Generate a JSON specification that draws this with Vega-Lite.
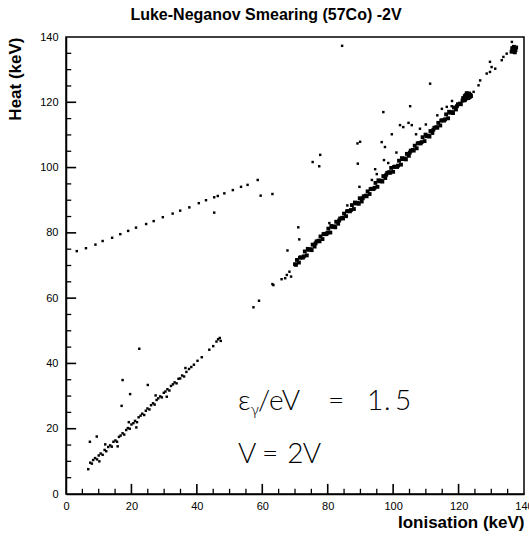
{
  "$schema": "https://vega.github.io/schema/vega-lite/v6.json",
  "width": 458,
  "height": 457,
  "autosize": "none",
  "padding": {"left": 66, "top": 37, "right": 5, "bottom": 46},
  "background": "white",
  "config": {
    "view": {"stroke": "black", "strokeWidth": 1.5},
    "scale": {"continuousPadding": 0},
    "axis": {
      "grid": false,
      "domainColor": "black",
      "domainWidth": 1.5,
      "labelFont": "Liberation Sans",
      "labelFontSize": 11,
      "labelColor": "black",
      "titleFont": "Liberation Sans",
      "titleFontSize": 17,
      "titleFontWeight": "bold",
      "titleColor": "black"
    }
  },
  "title": {
    "text": "Luke-Neganov Smearing (57Co) -2V",
    "font": "Liberation Sans",
    "fontSize": 16,
    "fontWeight": "bold",
    "color": "black",
    "anchor": "middle",
    "dx": -29,
    "offset": 8
  },
  "resolve": {"axis": {"x": "independent", "y": "independent"}},
  "datasets": {
    "scatter": [
      {"ionisation": 3.3, "heat": 74.4}, {"ionisation": 6.1, "heat": 75.3}, {"ionisation": 9.0, "heat": 76.4}, {"ionisation": 11.2, "heat": 77.5},
      {"ionisation": 14.1, "heat": 78.5}, {"ionisation": 16.6, "heat": 79.6}, {"ionisation": 19.0, "heat": 80.6}, {"ionisation": 21.4, "heat": 81.6},
      {"ionisation": 24.5, "heat": 82.7}, {"ionisation": 26.8, "heat": 83.6}, {"ionisation": 29.6, "heat": 84.8}, {"ionisation": 32.6, "heat": 85.9},
      {"ionisation": 34.9, "heat": 86.8}, {"ionisation": 37.7, "heat": 87.8}, {"ionisation": 40.6, "heat": 89.1}, {"ionisation": 42.8, "heat": 90.0},
      {"ionisation": 45.3, "heat": 90.9}, {"ionisation": 46.4, "heat": 91.3}, {"ionisation": 48.4, "heat": 92.1}, {"ionisation": 51.0, "heat": 93.1},
      {"ionisation": 53.5, "heat": 94.1}, {"ionisation": 55.5, "heat": 94.7}, {"ionisation": 58.6, "heat": 96.2},
      {"ionisation": 45.3, "heat": 86.2}, {"ionisation": 59.5, "heat": 91.4}, {"ionisation": 63.1, "heat": 91.9}, {"ionisation": 67.7, "heat": 74.6},

      {"ionisation": 6.8, "heat": 7.6}, {"ionisation": 7.4, "heat": 9.6}, {"ionisation": 7.9, "heat": 9.3}, {"ionisation": 8.3, "heat": 10.4},
      {"ionisation": 8.9, "heat": 11.0}, {"ionisation": 9.5, "heat": 10.6}, {"ionisation": 10.0, "heat": 11.8}, {"ionisation": 10.6, "heat": 12.4},
      {"ionisation": 11.2, "heat": 12.0}, {"ionisation": 11.8, "heat": 13.5}, {"ionisation": 12.3, "heat": 13.1}, {"ionisation": 12.9, "heat": 14.4},
      {"ionisation": 13.5, "heat": 14.9}, {"ionisation": 14.0, "heat": 14.5}, {"ionisation": 14.5, "heat": 16.0}, {"ionisation": 15.1, "heat": 16.4},
      {"ionisation": 15.6, "heat": 16.0}, {"ionisation": 16.2, "heat": 17.5}, {"ionisation": 16.7, "heat": 17.9}, {"ionisation": 17.3, "heat": 18.6},
      {"ionisation": 17.8, "heat": 18.2}, {"ionisation": 18.4, "heat": 19.6}, {"ionisation": 18.9, "heat": 20.2}, {"ionisation": 19.5, "heat": 20.0},
      {"ionisation": 20.0, "heat": 21.3}, {"ionisation": 20.6, "heat": 21.7}, {"ionisation": 21.1, "heat": 22.4}, {"ionisation": 21.7, "heat": 22.0},
      {"ionisation": 22.2, "heat": 23.5}, {"ionisation": 22.8, "heat": 24.0}, {"ionisation": 23.3, "heat": 24.6}, {"ionisation": 23.9, "heat": 24.2},
      {"ionisation": 24.4, "heat": 25.5}, {"ionisation": 24.9, "heat": 26.2}, {"ionisation": 25.5, "heat": 25.9}, {"ionisation": 26.0, "heat": 27.2},
      {"ionisation": 26.6, "heat": 27.8}, {"ionisation": 27.1, "heat": 27.4}, {"ionisation": 27.7, "heat": 28.8}, {"ionisation": 28.2, "heat": 29.3},
      {"ionisation": 28.8, "heat": 29.9}, {"ionisation": 29.3, "heat": 29.6}, {"ionisation": 29.9, "heat": 31.0}, {"ionisation": 30.4, "heat": 31.4},
      {"ionisation": 31.0, "heat": 32.1}, {"ionisation": 31.6, "heat": 31.7}, {"ionisation": 32.1, "heat": 33.1}, {"ionisation": 32.7, "heat": 33.6},
      {"ionisation": 33.2, "heat": 34.2}, {"ionisation": 33.8, "heat": 33.9}, {"ionisation": 34.4, "heat": 35.3}, {"ionisation": 34.9, "heat": 35.4},
      {"ionisation": 35.5, "heat": 36.3}, {"ionisation": 36.1, "heat": 36.0}, {"ionisation": 36.8, "heat": 37.4}, {"ionisation": 37.6, "heat": 38.3},
      {"ionisation": 38.3, "heat": 38.9}, {"ionisation": 39.1, "heat": 39.6}, {"ionisation": 40.2, "heat": 40.8}, {"ionisation": 41.5, "heat": 41.9},
      {"ionisation": 43.8, "heat": 44.2}, {"ionisation": 45.0, "heat": 45.3}, {"ionisation": 46.0, "heat": 46.7}, {"ionisation": 46.5, "heat": 47.4},
      {"ionisation": 47.0, "heat": 47.8}, {"ionisation": 47.3, "heat": 46.9},
      {"ionisation": 12.0, "heat": 15.2}, {"ionisation": 15.8, "heat": 14.6}, {"ionisation": 21.5, "heat": 20.4}, {"ionisation": 27.4, "heat": 30.2},
      {"ionisation": 30.8, "heat": 29.8}, {"ionisation": 36.5, "heat": 38.6}, {"ionisation": 10.2, "heat": 10.0}, {"ionisation": 19.2, "heat": 22.0},
      {"ionisation": 7.3, "heat": 16.0}, {"ionisation": 9.4, "heat": 17.6}, {"ionisation": 17.0, "heat": 27.0}, {"ionisation": 17.3, "heat": 34.9},
      {"ionisation": 19.6, "heat": 30.6}, {"ionisation": 22.4, "heat": 44.5}, {"ionisation": 25.0, "heat": 33.4},

      {"ionisation": 57.3, "heat": 57.2}, {"ionisation": 59.0, "heat": 59.2}, {"ionisation": 63.4, "heat": 64.0}, {"ionisation": 63.1, "heat": 64.3},
      {"ionisation": 65.9, "heat": 65.8}, {"ionisation": 67.0, "heat": 66.1}, {"ionisation": 67.5, "heat": 67.1}, {"ionisation": 68.3, "heat": 68.1},
      {"ionisation": 68.8, "heat": 66.6},

      {"ionisation": 124.6, "heat": 123.2}, {"ionisation": 126.1, "heat": 125.2}, {"ionisation": 126.6, "heat": 126.7}, {"ionisation": 128.6, "heat": 128.8},
      {"ionisation": 129.6, "heat": 129.3}, {"ionisation": 130.1, "heat": 130.8}, {"ionisation": 131.2, "heat": 130.3}, {"ionisation": 129.6, "heat": 132.4},
      {"ionisation": 133.2, "heat": 132.9}, {"ionisation": 133.7, "heat": 133.9}, {"ionisation": 134.7, "heat": 134.9}, {"ionisation": 136.3, "heat": 138.5},

      {"ionisation": 84.4, "heat": 137.3}, {"ionisation": 111.3, "heat": 125.7}, {"ionisation": 105.2, "heat": 118.8}, {"ionisation": 97.0, "heat": 117.0},
      {"ionisation": 114.9, "heat": 118.0}, {"ionisation": 116.4, "heat": 118.6}, {"ionisation": 117.9, "heat": 118.8}, {"ionisation": 102.1, "heat": 113.0},
      {"ionisation": 103.1, "heat": 112.4}, {"ionisation": 104.7, "heat": 113.7}, {"ionisation": 105.7, "heat": 113.0}, {"ionisation": 108.2, "heat": 111.9},
      {"ionisation": 99.6, "heat": 110.2}, {"ionisation": 96.5, "heat": 107.8}, {"ionisation": 97.5, "heat": 106.3}, {"ionisation": 89.1, "heat": 107.4},
      {"ionisation": 89.9, "heat": 107.9}, {"ionisation": 77.7, "heat": 103.9}, {"ionisation": 75.4, "heat": 101.7}, {"ionisation": 77.4, "heat": 100.4},
      {"ionisation": 89.2, "heat": 101.2}, {"ionisation": 97.2, "heat": 102.3}, {"ionisation": 94.5, "heat": 99.5}, {"ionisation": 95.0, "heat": 98.0},
      {"ionisation": 89.7, "heat": 94.1}, {"ionisation": 71.0, "heat": 81.7}, {"ionisation": 71.3, "heat": 78.0},
      {"ionisation": 80.5, "heat": 83.0}, {"ionisation": 86.0, "heat": 88.4}, {"ionisation": 93.5, "heat": 96.2}, {"ionisation": 101.0, "heat": 104.6},
      {"ionisation": 107.0, "heat": 110.2}, {"ionisation": 113.5, "heat": 116.0}, {"ionisation": 118.0, "heat": 120.4}, {"ionisation": 110.0, "heat": 113.2},
      {"ionisation": 98.5, "heat": 101.4}
    ],
    "band": [
      {"ionisation": 70.0, "heat": 70.4}, {"ionisation": 70.6, "heat": 71.7}, {"ionisation": 71.2, "heat": 70.9}, {"ionisation": 71.8, "heat": 72.5},
      {"ionisation": 72.4, "heat": 72.4}, {"ionisation": 73.0, "heat": 74.3}, {"ionisation": 73.6, "heat": 73.1}, {"ionisation": 74.2, "heat": 74.8},
      {"ionisation": 74.8, "heat": 75.0}, {"ionisation": 75.4, "heat": 76.4}, {"ionisation": 76.0, "heat": 75.8}, {"ionisation": 76.6, "heat": 77.4},
      {"ionisation": 77.2, "heat": 77.6}, {"ionisation": 77.8, "heat": 78.9}, {"ionisation": 78.4, "heat": 78.1}, {"ionisation": 79.0, "heat": 79.7},
      {"ionisation": 79.6, "heat": 79.6}, {"ionisation": 80.2, "heat": 81.3}, {"ionisation": 80.8, "heat": 80.1}, {"ionisation": 81.4, "heat": 81.8},
      {"ionisation": 82.0, "heat": 82.0}, {"ionisation": 82.6, "heat": 83.4}, {"ionisation": 83.2, "heat": 82.8}, {"ionisation": 83.8, "heat": 84.4},
      {"ionisation": 84.4, "heat": 84.6}, {"ionisation": 85.0, "heat": 85.9}, {"ionisation": 85.6, "heat": 85.1}, {"ionisation": 86.2, "heat": 86.7},
      {"ionisation": 86.8, "heat": 86.6}, {"ionisation": 87.4, "heat": 88.5}, {"ionisation": 88.0, "heat": 87.3}, {"ionisation": 88.6, "heat": 89.0},
      {"ionisation": 89.2, "heat": 89.2}, {"ionisation": 89.8, "heat": 90.6}, {"ionisation": 90.4, "heat": 89.6}, {"ionisation": 91.0, "heat": 91.2},
      {"ionisation": 91.6, "heat": 91.4}, {"ionisation": 92.2, "heat": 92.7}, {"ionisation": 92.8, "heat": 91.9}, {"ionisation": 93.4, "heat": 93.5},
      {"ionisation": 94.0, "heat": 93.4}, {"ionisation": 94.6, "heat": 95.3}, {"ionisation": 95.2, "heat": 94.1}, {"ionisation": 95.8, "heat": 95.8},
      {"ionisation": 96.4, "heat": 96.0}, {"ionisation": 97.0, "heat": 97.4}, {"ionisation": 97.6, "heat": 96.8}, {"ionisation": 98.2, "heat": 98.4},
      {"ionisation": 98.8, "heat": 98.6}, {"ionisation": 99.4, "heat": 99.9}, {"ionisation": 100.0, "heat": 98.7}, {"ionisation": 100.6, "heat": 100.3},
      {"ionisation": 101.2, "heat": 100.2}, {"ionisation": 101.8, "heat": 102.1}, {"ionisation": 102.4, "heat": 100.9}, {"ionisation": 103.0, "heat": 102.6},
      {"ionisation": 103.6, "heat": 102.8}, {"ionisation": 104.2, "heat": 104.2}, {"ionisation": 104.8, "heat": 103.6}, {"ionisation": 105.4, "heat": 105.2},
      {"ionisation": 106.0, "heat": 105.4}, {"ionisation": 106.6, "heat": 106.7}, {"ionisation": 107.2, "heat": 105.9}, {"ionisation": 107.8, "heat": 107.5},
      {"ionisation": 108.4, "heat": 107.4}, {"ionisation": 109.0, "heat": 109.3}, {"ionisation": 109.6, "heat": 108.1}, {"ionisation": 110.2, "heat": 109.6},
      {"ionisation": 110.8, "heat": 109.8}, {"ionisation": 111.4, "heat": 111.2}, {"ionisation": 112.0, "heat": 110.6}, {"ionisation": 112.6, "heat": 112.2},
      {"ionisation": 113.2, "heat": 112.4}, {"ionisation": 113.8, "heat": 113.7}, {"ionisation": 114.4, "heat": 112.9}, {"ionisation": 115.0, "heat": 114.5},
      {"ionisation": 115.6, "heat": 114.4}, {"ionisation": 116.2, "heat": 116.3}, {"ionisation": 116.8, "heat": 115.1}, {"ionisation": 117.4, "heat": 116.8},
      {"ionisation": 118.0, "heat": 117.0}, {"ionisation": 118.6, "heat": 118.4}, {"ionisation": 119.2, "heat": 117.8}, {"ionisation": 119.8, "heat": 119.4},
      {"ionisation": 120.4, "heat": 119.6},
      {"ionisation": 70.3, "heat": 70.2}, {"ionisation": 71.5, "heat": 72.4}, {"ionisation": 72.7, "heat": 72.8}, {"ionisation": 73.9, "heat": 75.1},
      {"ionisation": 75.1, "heat": 74.7}, {"ionisation": 76.3, "heat": 76.8}, {"ionisation": 77.5, "heat": 77.4}, {"ionisation": 78.7, "heat": 79.6},
      {"ionisation": 79.9, "heat": 80.0}, {"ionisation": 81.1, "heat": 82.1}, {"ionisation": 82.3, "heat": 81.7}, {"ionisation": 83.5, "heat": 83.8},
      {"ionisation": 84.7, "heat": 84.4}, {"ionisation": 85.9, "heat": 86.6}, {"ionisation": 87.1, "heat": 87.0}, {"ionisation": 88.3, "heat": 89.3},
      {"ionisation": 89.5, "heat": 88.9}, {"ionisation": 90.7, "heat": 90.6}, {"ionisation": 91.9, "heat": 91.2}, {"ionisation": 93.1, "heat": 93.4},
      {"ionisation": 94.3, "heat": 93.8}, {"ionisation": 95.5, "heat": 96.1}, {"ionisation": 96.7, "heat": 95.7}, {"ionisation": 97.9, "heat": 97.8},
      {"ionisation": 99.1, "heat": 98.4}, {"ionisation": 100.3, "heat": 100.2}, {"ionisation": 101.5, "heat": 100.6}, {"ionisation": 102.7, "heat": 102.9},
      {"ionisation": 103.9, "heat": 102.5}, {"ionisation": 105.1, "heat": 104.6}, {"ionisation": 106.3, "heat": 105.2}, {"ionisation": 107.5, "heat": 107.4},
      {"ionisation": 108.7, "heat": 107.8}, {"ionisation": 109.9, "heat": 110.1}, {"ionisation": 111.1, "heat": 109.5}, {"ionisation": 112.3, "heat": 111.6},
      {"ionisation": 113.5, "heat": 112.2}, {"ionisation": 114.7, "heat": 114.4}, {"ionisation": 115.9, "heat": 114.8}, {"ionisation": 117.1, "heat": 117.1},
      {"ionisation": 118.3, "heat": 116.7}, {"ionisation": 119.5, "heat": 118.8}, {"ionisation": 120.7, "heat": 119.4},
      {"ionisation": 121.2, "heat": 120.5}, {"ionisation": 121.6, "heat": 121.0}, {"ionisation": 122.0, "heat": 121.5}, {"ionisation": 122.4, "heat": 121.2},
      {"ionisation": 122.8, "heat": 121.8}, {"ionisation": 123.2, "heat": 122.0}, {"ionisation": 123.6, "heat": 122.3}, {"ionisation": 122.2, "heat": 122.2},
      {"ionisation": 121.8, "heat": 120.6}, {"ionisation": 123.0, "heat": 121.3}, {"ionisation": 122.6, "heat": 122.4}, {"ionisation": 121.4, "heat": 121.3},
      {"ionisation": 123.4, "heat": 121.6}, {"ionisation": 122.0, "heat": 120.8}, {"ionisation": 123.8, "heat": 121.9}, {"ionisation": 122.5, "heat": 122.8},
      {"ionisation": 123.2, "heat": 122.7}, {"ionisation": 121.9, "heat": 121.9},
      {"ionisation": 136.2, "heat": 135.5}, {"ionisation": 136.6, "heat": 136.2}, {"ionisation": 137.0, "heat": 136.5}, {"ionisation": 137.4, "heat": 136.0},
      {"ionisation": 136.8, "heat": 135.6}, {"ionisation": 137.2, "heat": 135.3}, {"ionisation": 136.4, "heat": 136.6}, {"ionisation": 137.6, "heat": 136.8},
      {"ionisation": 136.9, "heat": 137.0}
    ],
    "majorTicks": [
      {"position": 20}, {"position": 40}, {"position": 60}, {"position": 80}, {"position": 100}, {"position": 120}
    ],
    "minorTicks": [
      {"position": 5}, {"position": 10}, {"position": 15}, {"position": 25}, {"position": 30}, {"position": 35}, {"position": 45}, {"position": 50}, {"position": 55},
      {"position": 65}, {"position": 70}, {"position": 75}, {"position": 85}, {"position": 90}, {"position": 95}, {"position": 105}, {"position": 110}, {"position": 115},
      {"position": 125}, {"position": 130}, {"position": 135}
    ],
    "annotation": [
      {"ionisation": 52.6, "heat": 28.2, "label": "ε"},
      {"ionisation": 58.7, "heat": 28.2, "label": "/eV"},
      {"ionisation": 80.1, "heat": 28.2, "label": "="},
      {"ionisation": 92.0, "heat": 28.2, "label": "1"},
      {"ionisation": 97.2, "heat": 28.2, "label": "."},
      {"ionisation": 100.6, "heat": 28.2, "label": "5"},
      {"ionisation": 52.6, "heat": 11.9, "label": "V"},
      {"ionisation": 59.9, "heat": 11.9, "label": "="},
      {"ionisation": 67.6, "heat": 11.9, "label": "2"},
      {"ionisation": 72.4, "heat": 11.9, "label": "V"}
    ],
    "subscript": [
      {"ionisation": 56.4, "heat": 25.8, "label": "γ"}
    ]
  },
  "layer": [
    {
      "data": {"name": "scatter"},
      "mark": {"type": "square", "size": 6, "color": "black", "opacity": 1},
      "encoding": {
        "x": {
          "field": "ionisation", "type": "quantitative",
          "scale": {"domain": [0, 140], "nice": false, "zero": false, "padding": 0},
          "axis": {
            "orient": "bottom",
            "title": "Ionisation (keV)",
            "titleAnchor": "end",
            "titlePadding": 3,
            "values": [0, 20, 40, 60, 80, 100, 120, 140],
            "ticks": false,
            "labelPadding": 6,
            "labelFlush": false,
            "labelOverlap": false
          }
        },
        "y": {
          "field": "heat", "type": "quantitative",
          "scale": {"domain": [0, 140], "nice": false, "zero": false, "padding": 0},
          "axis": {
            "orient": "left",
            "title": "Heat (keV)",
            "titleAnchor": "end",
            "titleAlign": "right",
            "titleAngle": -90,
            "titleBaseline": "middle",
            "titleX": -51,
            "titleY": 0,
            "values": [0, 20, 40, 60, 80, 100, 120, 140],
            "ticks": false,
            "labelPadding": 8,
            "labelFlush": false,
            "labelOverlap": false
          }
        }
      }
    },
    {
      "data": {"name": "band"},
      "mark": {"type": "square", "size": 15, "color": "black", "opacity": 1},
      "encoding": {
        "x": {"field": "ionisation", "type": "quantitative", "axis": null},
        "y": {"field": "heat", "type": "quantitative", "axis": null}
      }
    },
    {
      "data": {"name": "majorTicks"},
      "mark": {"type": "bar", "color": "black", "width": 1.6, "opacity": 1},
      "encoding": {
        "x": {"field": "position", "type": "quantitative", "axis": null},
        "y": {"datum": 0, "type": "quantitative", "axis": null},
        "y2": {"datum": 3.1}
      }
    },
    {
      "data": {"name": "minorTicks"},
      "mark": {"type": "bar", "color": "black", "width": 1.3, "opacity": 1},
      "encoding": {
        "x": {"field": "position", "type": "quantitative", "axis": null},
        "y": {"datum": 0, "type": "quantitative", "axis": null},
        "y2": {"datum": 1.6}
      }
    },
    {
      "data": {"name": "majorTicks"},
      "mark": {"type": "bar", "orient": "horizontal", "color": "black", "height": 1.6, "opacity": 1},
      "encoding": {
        "y": {"field": "position", "type": "quantitative", "axis": null},
        "x": {"datum": 0, "type": "quantitative", "axis": null},
        "x2": {"datum": 3.1}
      }
    },
    {
      "data": {"name": "minorTicks"},
      "mark": {"type": "bar", "orient": "horizontal", "color": "black", "height": 1.3, "opacity": 1},
      "encoding": {
        "y": {"field": "position", "type": "quantitative", "axis": null},
        "x": {"datum": 0, "type": "quantitative", "axis": null},
        "x2": {"datum": 1.6}
      }
    },
    {
      "data": {"name": "annotation"},
      "mark": {"type": "text", "align": "left", "baseline": "middle", "font": "Lato", "fontWeight": 300, "fontSize": 28, "color": "black"},
      "encoding": {
        "x": {"field": "ionisation", "type": "quantitative", "axis": null},
        "y": {"field": "heat", "type": "quantitative", "axis": null},
        "text": {"field": "label"}
      }
    },
    {
      "data": {"name": "subscript"},
      "mark": {"type": "text", "align": "left", "baseline": "middle", "font": "Lato", "fontWeight": 300, "fontSize": 16, "color": "black"},
      "encoding": {
        "x": {"field": "ionisation", "type": "quantitative", "axis": null},
        "y": {"field": "heat", "type": "quantitative", "axis": null},
        "text": {"field": "label"}
      }
    }
  ]
}
